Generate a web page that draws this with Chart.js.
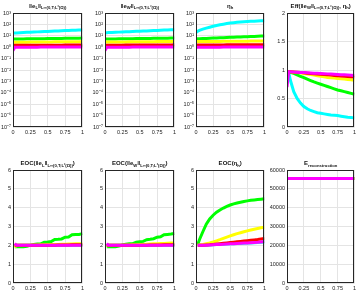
<!DOCTYPE html>
<html><head><meta charset="utf-8">
<script src="https://cdn.jsdelivr.net/npm/chart.js@4/dist/chart.umd.min.js"></script>
<style>
html,body{margin:0;padding:0;background:#fff;width:357px;height:307px;overflow:hidden;position:relative}
canvas{position:absolute}
</style></head><body>
<script>
// ---------- data ----------
const t = [0,0.025,0.05,0.1,0.15,0.2,0.25,0.3,0.35,0.4,0.45,0.5,0.55,0.6,0.65,0.7,0.75,0.8,0.85,0.9,0.95,1];
const tRec = [0,0.5,1];
const xTicks = [0,0.25,0.5,0.75,1];
const logTicks = [1e-7,1e-6,1e-5,1e-4,1e-3,1e-2,1e-1,1,1e1,1e2,1e3];
const effTicks = [0,0.5,1,1.5,2];
const eocTicks = [0,1,2,3,4,5,6];
const recTicks = [0,10000,20000,30000,40000,50000,60000];

// ||e_L||
const errL_cyan    = [17,17.5,18,18.6,19.3,20,20.7,21.4,22.1,22.8,23.5,24.3,25.1,25.9,26.7,27.6,28.5,29.4,30.3,31.2,32.1,33];
const errL_green   = [5.2,5.2,5.25,5.3,5.35,5.4,5.45,5.5,5.55,5.6,5.65,5.7,5.76,5.82,5.88,5.94,6,6.06,6.12,6.18,6.24,6.3];
const errL_yellow  = [2.7,2.7,2.72,2.74,2.76,2.78,2.8,2.82,2.84,2.86,2.88,2.9,2.92,2.94,2.96,2.98,3,3.02,3.04,3.06,3.08,3.1];
const errL_red     = [1.45,1.45,1.46,1.46,1.47,1.47,1.48,1.48,1.49,1.49,1.5,1.5,1.51,1.51,1.52,1.52,1.53,1.53,1.54,1.54,1.55,1.55];
const errL_magenta = [0.5,1,1,1,1,1.01,1.01,1.01,1.01,1.02,1.02,1.02,1.02,1.03,1.03,1.03,1.03,1.04,1.04,1.04,1.05,1.05];
// ||e_W||
const errW_cyan    = [18,18.5,19,19.6,20.3,21,21.7,22.4,23.1,23.8,24.6,25.4,26.2,27,27.9,28.8,29.7,30.6,31.5,32.4,33.3,34.2];
const errW_green   = [5.2,5.2,5.25,5.3,5.35,5.4,5.45,5.5,5.55,5.6,5.66,5.72,5.78,5.84,5.9,5.96,6.02,6.08,6.14,6.2,6.26,6.32];
const errW_yellow  = [2.8,2.8,2.82,2.84,2.86,2.88,2.9,2.92,2.94,2.96,2.98,3,3.02,3.04,3.06,3.08,3.1,3.12,3.14,3.16,3.18,3.2];
const errW_red     = [1.5,1.5,1.5,1.51,1.51,1.52,1.52,1.53,1.53,1.54,1.54,1.55,1.55,1.56,1.56,1.57,1.57,1.58,1.58,1.59,1.59,1.6];
const errW_magenta = [0.5,1,1,1,1,1.01,1.01,1.01,1.01,1.02,1.02,1.02,1.02,1.03,1.03,1.03,1.03,1.04,1.04,1.04,1.05,1.05];
// eta_h
const eta_cyan    = [20,25,30,38,47,57,68,80,92,105,118,130,141,151,160,169,177,185,192,199,205,211];
const eta_green   = [5.3,5.4,5.5,5.7,5.9,6.1,6.3,6.5,6.7,6.9,7.1,7.3,7.5,7.7,7.9,8.1,8.3,8.6,8.9,9.2,9.5,9.8];
const eta_yellow  = [3.1,3.1,3.12,3.14,3.16,3.18,3.2,3.22,3.24,3.26,3.28,3.3,3.32,3.34,3.36,3.38,3.4,3.42,3.44,3.46,3.48,3.5];
const eta_red     = [1.55,1.55,1.56,1.56,1.57,1.57,1.58,1.58,1.59,1.59,1.6,1.6,1.61,1.61,1.62,1.62,1.63,1.63,1.64,1.64,1.65,1.65];
const eta_magenta = [1,1,1,1,1,1.01,1.01,1.01,1.01,1.02,1.02,1.02,1.02,1.03,1.03,1.03,1.03,1.04,1.04,1.04,1.05,1.05];
// Eff
const eff_cyan    = [0.97,0.96,0.82,0.62,0.5,0.42,0.36,0.32,0.29,0.27,0.25,0.24,0.23,0.22,0.21,0.205,0.2,0.19,0.18,0.17,0.165,0.16];
const eff_green   = [0.97,0.97,0.96,0.94,0.915,0.89,0.865,0.84,0.815,0.79,0.77,0.75,0.73,0.71,0.69,0.67,0.65,0.635,0.62,0.605,0.59,0.575];
const eff_yellow  = [0.97,0.97,0.97,0.96,0.955,0.95,0.94,0.93,0.92,0.91,0.9,0.89,0.88,0.87,0.865,0.86,0.85,0.845,0.84,0.835,0.83,0.82];
const eff_red     = [0.97,0.97,0.97,0.965,0.96,0.955,0.95,0.945,0.94,0.935,0.93,0.925,0.92,0.915,0.91,0.905,0.9,0.895,0.89,0.885,0.88,0.875];
const eff_magenta = [0.7,0.97,0.97,0.965,0.962,0.958,0.955,0.952,0.948,0.945,0.942,0.938,0.935,0.932,0.928,0.925,0.922,0.918,0.915,0.912,0.908,0.905];
// EOC(||e_L||)
const eocL_cyan    = [null,2,2,2,2,2,2,2,2,2,2,2,2,2,2,2,2,2,2,2,2,2];
const eocL_green   = [null,1.93,1.93,1.93,1.93,1.95,2,2.05,2.07,2.08,2.17,2.18,2.2,2.31,2.32,2.34,2.43,2.44,2.56,2.57,2.58,2.62];
const eocL_yellow  = [null,1.9,2,2,2,2.01,2.01,2.02,2.02,2.03,2.03,2.04,2.04,2.05,2.05,2.06,2.06,2.07,2.07,2.08,2.08,2.09];
const eocL_red     = [null,2,2,2,2,2,2,2,2,2,2.01,2.01,2.01,2.01,2.02,2.02,2.02,2.02,2.03,2.03,2.03,2.03];
const eocL_magenta = [null,2.1,2,2,2,2,2,2,2,2,2,2,2,2,2,2,2,2,2,2,2,2];
// EOC(||e_W||)
const eocW_cyan    = [null,2,2,2,2,2,2,2,2,2,2,2,2,2,2,2,2,2,2,2,2,2];
const eocW_green   = [null,1.93,1.93,1.93,1.93,1.96,2.02,2.06,2.08,2.09,2.17,2.19,2.21,2.3,2.32,2.35,2.43,2.45,2.56,2.58,2.6,2.63];
const eocW_yellow  = [null,1.95,2,2,2,2.01,2.01,2.02,2.02,2.03,2.03,2.04,2.05,2.06,2.07,2.08,2.09,2.1,2.1,2.11,2.12,2.13];
const eocW_red     = [null,2,2,2,2,2,2,2,2,2,2.01,2.01,2.01,2.01,2.02,2.02,2.02,2.02,2.03,2.03,2.03,2.03];
const eocW_magenta = [null,2.1,2,2,2,2,2,2,2,2,2,2,2,2,2,2,2,2,2,2,2,2];
// EOC(eta_h)
const eocE_cyan    = [null,2,2,2,2.01,2.02,2.03,2.04,2.05,2.06,2.07,2.08,2.09,2.1,2.1,2.11,2.12,2.13,2.14,2.15,2.16,2.18];
const eocE_green   = [null,2.05,2.3,2.72,3.12,3.4,3.6,3.76,3.88,3.98,4.07,4.14,4.2,4.25,4.29,4.33,4.36,4.39,4.41,4.43,4.45,4.47];
const eocE_yellow  = [null,2,2.02,2.05,2.09,2.13,2.18,2.24,2.3,2.37,2.44,2.5,2.56,2.62,2.67,2.72,2.77,2.81,2.85,2.89,2.93,2.96];
const eocE_red     = [null,2,2,2.01,2.02,2.03,2.05,2.07,2.09,2.11,2.13,2.15,2.17,2.19,2.21,2.23,2.25,2.27,2.29,2.31,2.34,2.37];
const eocE_magenta = [null,2,2,2,2.01,2.02,2.03,2.04,2.05,2.06,2.07,2.08,2.09,2.1,2.11,2.12,2.13,2.14,2.15,2.16,2.18,2.2];
// E_reconstruction
const rec_cyan    = [55500,55500,55500];
const rec_green   = [55500,55500,55500];
const rec_yellow  = [55500,55500,55500];
const rec_red     = [55500,55500,55500];
const rec_magenta = [55500,55500,55500];

// titles: [text, 0=normal 1=subscript]
const titleL   = [['‖e',0],['L',1],['‖',0],['L∞(0,T;L²(Ω))',1]];
const titleW   = [['‖e',0],['W',1],['‖',0],['L∞(0,T;L²(Ω))',1]];
const titleEta = [['η',0],['h',1]];
const titleEff = [['Eff(‖e',0],['W',1],['‖',0],['L∞(0,T;L²(Ω))',1],[', η',0],['h',1],[')',0]];
const titleEL  = [['EOC(‖e',0],['L',1],['‖',0],['L∞(0,T;L²(Ω))',1],[')',0]];
const titleEW  = [['EOC(‖e',0],['W',1],['‖',0],['L∞(0,T;L²(Ω))',1],[')',0]];
const titleEE  = [['EOC(η',0],['h',1],[')',0]];
const titleRec = [['E',0],['reconstruction',1]];

// ---------- styles ----------
const COLORS = {cyan:'#00ffff', green:'#00ff00', yellow:'#ffff00', red:'#ff0000', magenta:'#ff00ff'};
const FONT = '"Liberation Sans", Arial, sans-serif';
const SUP = {'0':'⁰','1':'¹','2':'²','3':'³','4':'⁴','5':'⁵','6':'⁶','7':'⁷','8':'⁸','9':'⁹','-':'⁻'};

function panel(box, xs, series, yCfg, title){
  const yw = 40, xh = 12, pt = 12, pr = 3;
  const W = box.R - box.L + yw + pr, H = box.B - box.T + pt + xh;
  const c = document.createElement('canvas');
  c.width = W; c.height = H;
  c.style.left = (box.L - yw) + 'px'; c.style.top = (box.T - pt) + 'px';
  c.style.width = W + 'px'; c.style.height = H + 'px';
  document.body.appendChild(c);
  const order = ['magenta','red','yellow','green','cyan'];
  const datasets = order.map(k => ({
    data: xs.map((x,i) => ({x: x, y: series[k][i]})),
    borderColor: COLORS[k], backgroundColor: COLORS[k],
    borderWidth: 3, pointRadius: 0, fill: false, tension: 0
  }));
  const titleBase = box.titleY - (box.T - pt);
  const boxPlugin = {
    id: 'boxAndTitle',
    afterDraw(chart){
      const ctx = chart.ctx, a = chart.chartArea;
      ctx.save();
      ctx.strokeStyle = '#262626'; ctx.lineWidth = 1;
      ctx.strokeRect(Math.round(a.left) + 0.5, Math.round(a.top) + 0.5, Math.round(a.right - a.left) - 1, Math.round(a.bottom - a.top) - 1);
      const fN = 'bold 6px ' + FONT, fS = 'bold 4.2px ' + FONT;
      let w = 0;
      title.forEach(([s,m]) => { ctx.font = m ? fS : fN; w += ctx.measureText(s).width; });
      let x = (a.left + a.right) / 2 - w / 2;
      ctx.fillStyle = '#111'; ctx.textBaseline = 'alphabetic'; ctx.textAlign = 'left';
      title.forEach(([s,m]) => {
        ctx.font = m ? fS : fN;
        ctx.fillText(s, x, titleBase + (m ? 1.5 : 0));
        x += ctx.measureText(s).width;
      });
      ctx.restore();
    }
  };
  new Chart(c, {
    type: 'line',
    data: {datasets},
    options: {
      responsive: false, animation: false, devicePixelRatio: 1,
      layout: {padding: {top: pt, right: pr, left: 0, bottom: 0}},
      plugins: {legend: {display: false}, title: {display: false}, tooltip: {enabled: false}},
      scales: {
        x: {
          type: 'linear', min: 0, max: 1,
          afterBuildTicks: s => { s.ticks = xTicks.map(v => ({value: v})); },
          afterFit: s => { s.height = xh; },
          grid: {color: '#e4e4e4', lineWidth: 1, drawTicks: false},
          border: {display: false},
          ticks: {padding: 2, color: '#222', font: {family: FONT, size: 5.5}, maxRotation: 0, autoSkip: false,
                  callback: v => String(v)}
        },
        y: {
          type: yCfg.type, min: yCfg.min, max: yCfg.max,
          afterBuildTicks: s => { s.ticks = yCfg.ticks.map(v => ({value: v})); },
          afterFit: s => { s.width = yw; },
          grid: {color: '#e4e4e4', lineWidth: 1, drawTicks: false},
          border: {display: false},
          ticks: {padding: 2, color: '#222', font: {family: FONT, size: 5.5}, autoSkip: false, callback: yCfg.fmt}
        }
      }
    },
    plugins: [boxPlugin]
  });
}

const logFmt = v => { const e = Math.round(Math.log10(v)); return '10' + String(e).split('').map(ch => SUP[ch]).join(''); };
const logY = {type: 'logarithmic', min: 1e-7, max: 1e3, ticks: logTicks, fmt: logFmt};
const effY = {type: 'linear', min: 0, max: 2, ticks: effTicks, fmt: v => String(v)};
const eocY = {type: 'linear', min: 0, max: 6, ticks: eocTicks, fmt: v => String(v)};
const recY = {type: 'linear', min: 0, max: 60000, ticks: recTicks, fmt: v => String(v)};

const rowTop = {T: 13, B: 127, titleY: 7.5};
const rowBot = {T: 170, B: 283, titleY: 165};
const cols = [{L: 13, R: 83}, {L: 105, R: 175}, {L: 196, R: 265}, {L: 287, R: 355}];
const boxAt = (r, c) => Object.assign({}, r, cols[c]);

panel(boxAt(rowTop,0), t, {cyan: errL_cyan, green: errL_green, yellow: errL_yellow, red: errL_red, magenta: errL_magenta}, logY, titleL);
panel(boxAt(rowTop,1), t, {cyan: errW_cyan, green: errW_green, yellow: errW_yellow, red: errW_red, magenta: errW_magenta}, logY, titleW);
panel(boxAt(rowTop,2), t, {cyan: eta_cyan, green: eta_green, yellow: eta_yellow, red: eta_red, magenta: eta_magenta}, logY, titleEta);
panel(boxAt(rowTop,3), t, {cyan: eff_cyan, green: eff_green, yellow: eff_yellow, red: eff_red, magenta: eff_magenta}, effY, titleEff);
panel(boxAt(rowBot,0), t, {cyan: eocL_cyan, green: eocL_green, yellow: eocL_yellow, red: eocL_red, magenta: eocL_magenta}, eocY, titleEL);
panel(boxAt(rowBot,1), t, {cyan: eocW_cyan, green: eocW_green, yellow: eocW_yellow, red: eocW_red, magenta: eocW_magenta}, eocY, titleEW);
panel(boxAt(rowBot,2), t, {cyan: eocE_cyan, green: eocE_green, yellow: eocE_yellow, red: eocE_red, magenta: eocE_magenta}, eocY, titleEE);
panel(boxAt(rowBot,3), tRec, {cyan: rec_cyan, green: rec_green, yellow: rec_yellow, red: rec_red, magenta: rec_magenta}, recY, titleRec);
</script>
</body></html>
